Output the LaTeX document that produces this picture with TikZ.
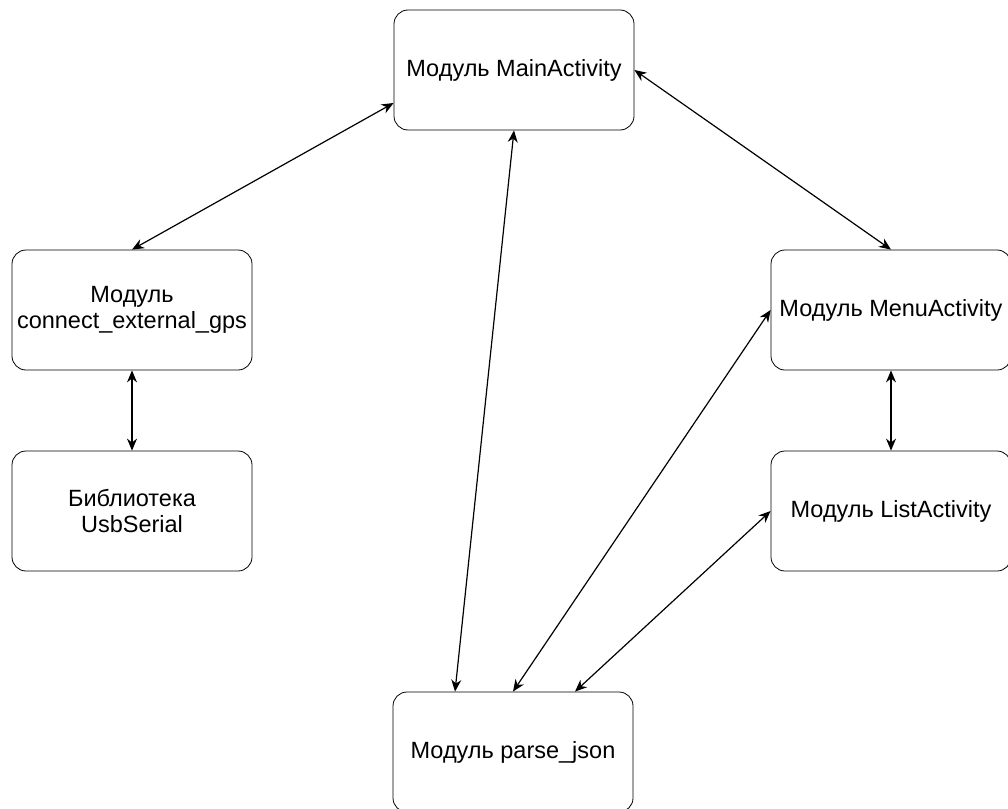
\documentclass[tikz,border=0pt]{standalone}
\usepackage{fontspec}
\setmainfont{Liberation Sans}
\usetikzlibrary{arrows.meta}

\begin{document}
\begin{tikzpicture}[x=1pt,y=-1pt,
    modbox/.style={draw,thick,rounded corners=14pt,minimum width=240pt,
      minimum height=120pt,align=center,font=\fontsize{23.5}{25.5}\selectfont,inner sep=0pt},
    link/.style={{Stealth[length=12pt,width=10pt]}-{Stealth[length=12pt,width=10pt]},line width=1.2pt}]
    \useasboundingbox (0,0) rectangle (1008,808);
    \node[modbox] (main) at (514,70) {Модуль MainActivity};
    \node[modbox] (gps) at (132,310) {Модуль\\connect\_external\_gps};
    \node[modbox] (usb) at (132,511) {Библиотека\\UsbSerial};
    \node[modbox] (menu) at (891,310) {Модуль MenuActivity};
    \node[modbox] (list) at (891,511) {Модуль ListActivity};
    \node[modbox] (json) at (513,752) {Модуль parse\_json};
    \draw[link] ([yshift=-33pt]main.west) to (gps.north);
    \draw[link] (main.east) to (menu.north);
    \draw[link] (main.south) to ([xshift=-58pt]json.north);
    \draw[link] (menu.west) to (json.north);
    \draw[link] (list.west) to ([xshift=62pt]json.north);
    \draw[link] (gps) to (usb);
    \draw[link] (menu) to (list);
  \end{tikzpicture}
\end{document}
